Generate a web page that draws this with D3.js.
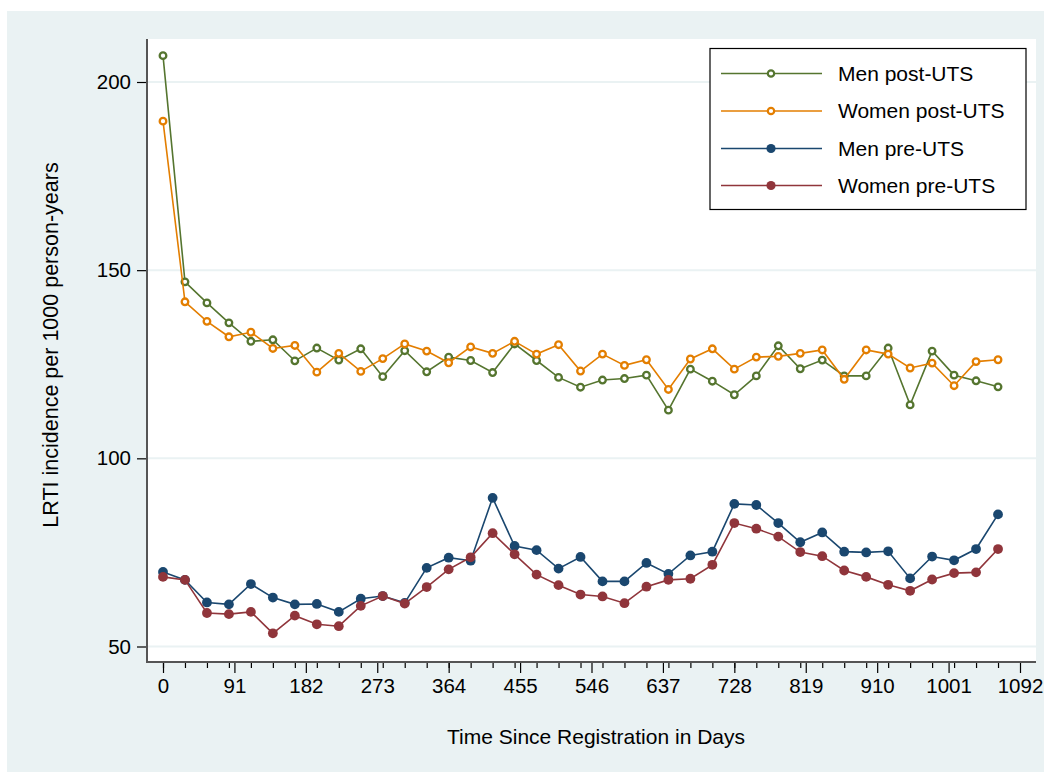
<!DOCTYPE html>
<html>
<head>
<meta charset="utf-8">
<script src="https://cdn.jsdelivr.net/npm/d3@7"></script>
<style>
  html, body { margin: 0; padding: 0; background: #ffffff; }
  svg { display: block; font-family: "Liberation Sans", Arial, Helvetica, sans-serif; }
</style>
</head>
<body>
<svg id="chart" width="1051" height="772"></svg>
<script>
// ---- Data ----
const days = [0, 28, 56, 84, 112, 140, 168, 196, 224, 252, 280, 308, 336, 364, 392, 420, 448, 476, 504, 532,
  560, 588, 616, 644, 672, 700, 728, 756, 784, 812, 840, 868, 896, 924, 952, 980, 1008, 1036, 1064];

const menPost = [207.0, 146.9, 141.3, 136.0, 131.1, 131.5, 125.9, 129.3, 126.1, 129.1, 121.7, 128.6, 123.0,
  126.9, 126.0, 122.8, 130.4, 126.0, 121.5, 118.9, 120.8, 121.2, 122.1, 112.8, 123.7, 120.5, 116.9, 121.9,
  129.9, 123.8, 126.1, 121.9, 121.9, 129.3, 114.2, 128.5, 122.1, 120.6, 119.0];

const womenPost = [189.6, 141.6, 136.4, 132.3, 133.5, 129.2, 130.0, 122.9, 127.9, 123.1, 126.5, 130.4, 128.5,
  125.4, 129.6, 127.9, 131.1, 127.7, 130.2, 123.2, 127.7, 124.7, 126.2, 118.3, 126.4, 129.1, 123.7, 126.9,
  127.1, 127.9, 128.8, 121.0, 128.8, 127.7, 124.0, 125.3, 119.3, 125.7, 126.2];

const menPre = [69.8, 67.7, 61.7, 61.2, 66.6, 63.0, 61.2, 61.3, 59.2, 62.7, 63.4, 61.6, 70.9,
  73.6, 72.8, 89.5, 76.7, 75.6, 70.7, 73.8, 67.3, 67.3, 72.2, 69.3, 74.2, 75.2, 87.9, 87.6,
  82.8, 77.7, 80.3, 75.2, 75.0, 75.3, 68.1, 73.9, 72.9, 75.9, 85.1];

const womenPre = [68.5, 67.7, 58.9, 58.6, 59.2, 53.5, 58.2, 55.9, 55.4, 60.8, 63.4, 61.4, 65.8,
  70.5, 73.7, 80.1, 74.5, 69.1, 66.3, 63.8, 63.3, 61.5, 65.9, 67.7, 68.0, 71.7, 82.8, 81.3,
  79.2, 75.1, 74.0, 70.2, 68.5, 66.4, 64.8, 67.8, 69.5, 69.7, 75.9];

const xMajorTicks = [0, 91, 182, 273, 364, 455, 546, 637, 728, 819, 910, 1001, 1092];
const xMinorTicks = days;
const yTicks = [50, 100, 150, 200];

const seriesNames = ["Men post-UTS", "Women post-UTS", "Men pre-UTS", "Women pre-UTS"];
const seriesValues = [menPost, womenPost, menPre, womenPre];
const seriesColors = ["#55752F", "#E37E00", "#1A476F", "#90353B"];
const seriesHollow = [true, true, false, false];

const xTitle = "Time Since Registration in Days";
const yTitle = "LRTI incidence per 1000 person-years";

// ---- Layout ----
const svg = d3.select("#chart");
const W = 1051, H = 772;
const plot = { left: 147, right: 1036, top: 39, bottom: 662 };

// outer graph region
svg.append("rect").attr("x", 7).attr("y", 11).attr("width", 1037).attr("height", H - 11)
  .attr("fill", "#EAF2F3");
// plot region
svg.append("rect").attr("x", plot.left).attr("y", plot.top)
  .attr("width", plot.right - plot.left).attr("height", plot.bottom - plot.top)
  .attr("fill", "#ffffff");

const x = d3.scaleLinear().domain([0, 1092]).range([163, 1020]);
const y = d3.scaleLinear().domain([50, 200]).range([646.5, 82]);

// gridlines
svg.append("g").selectAll("line").data(yTicks).join("line")
  .attr("x1", plot.left + 1).attr("x2", plot.right)
  .attr("y1", d => y(d)).attr("y2", d => y(d))
  .attr("stroke", "#EAF2F3").attr("stroke-width", 2);

// Y axis
const yAxis = d3.axisLeft(y).tickValues(yTicks).tickSize(10).tickPadding(6).tickFormat(d3.format("d"));
const gy = svg.append("g").attr("transform", `translate(${plot.left},0)`).call(yAxis);
gy.select(".domain").remove();
gy.selectAll(".tick line").attr("stroke", "#000").attr("stroke-width", 1.2);
gy.selectAll(".tick text").attr("font-size", 20.5).attr("fill", "#000")
  .attr("font-family", "Liberation Sans, Arial, sans-serif");
svg.append("line").attr("x1", plot.left).attr("x2", plot.left)
  .attr("y1", plot.top).attr("y2", plot.bottom + 1)
  .attr("stroke", "#555").attr("stroke-width", 2);

// X axis minor ticks
const gxm = svg.append("g").attr("transform", `translate(0,${plot.bottom})`)
  .call(d3.axisBottom(x).tickValues(xMinorTicks).tickSize(6).tickFormat(""));
gxm.select(".domain").remove();
gxm.selectAll(".tick line").attr("stroke", "#000").attr("stroke-width", 1.2);

// X axis major ticks
const gx = svg.append("g").attr("transform", `translate(0,${plot.bottom})`)
  .call(d3.axisBottom(x).tickValues(xMajorTicks).tickSize(11).tickPadding(5).tickFormat(d3.format("d")));
gx.select(".domain").remove();
gx.selectAll(".tick line").attr("stroke", "#000").attr("stroke-width", 1.2);
gx.selectAll(".tick text").attr("font-size", 20.5).attr("fill", "#000")
  .attr("font-family", "Liberation Sans, Arial, sans-serif");
svg.append("line").attr("x1", plot.left - 1).attr("x2", plot.right)
  .attr("y1", plot.bottom).attr("y2", plot.bottom)
  .attr("stroke", "#555").attr("stroke-width", 2);

// axis titles
svg.append("text").attr("x", 596).attr("y", 744)
  .attr("text-anchor", "middle").attr("font-size", 21).attr("fill", "#000").text(xTitle);
svg.append("text").attr("transform", `translate(58,345) rotate(-90)`)
  .attr("text-anchor", "middle").attr("font-size", 21.5).attr("fill", "#000").text(yTitle);

// series
const line = d3.line().x((d, i) => x(days[i])).y(d => y(d));
const drawOrder = [2, 3, 0, 1];
drawOrder.forEach(si => {
  const vals = seriesValues[si];
  const g = svg.append("g");
  g.append("path").datum(vals).attr("d", line).attr("fill", "none")
    .attr("stroke", seriesColors[si]).attr("stroke-width", 1.6);
  const pts = g.selectAll("circle").data(vals).join("circle")
    .attr("cx", (d, i) => x(days[i])).attr("cy", d => y(d));
  if (seriesHollow[si]) {
    pts.attr("r", 3.3).attr("fill", "#fff").attr("stroke", seriesColors[si]).attr("stroke-width", 2.3);
  } else {
    pts.attr("r", 4.9).attr("fill", seriesColors[si]).attr("stroke", "none");
  }
});

// legend
const lg = svg.append("g");
lg.append("rect").attr("x", 710).attr("y", 48.5).attr("width", 316).attr("height", 161)
  .attr("fill", "#fff").attr("stroke", "#000").attr("stroke-width", 1.2);
const rowsY = [73.5, 111, 148.5, 185.5];
seriesNames.forEach((name, i) => {
  const ry = rowsY[i];
  lg.append("line").attr("x1", 721).attr("x2", 822).attr("y1", ry).attr("y2", ry)
    .attr("stroke", seriesColors[i]).attr("stroke-width", 1.6);
  if (seriesHollow[i]) {
    lg.append("circle").attr("cx", 771).attr("cy", ry).attr("r", 3.2)
      .attr("fill", "#fff").attr("stroke", seriesColors[i]).attr("stroke-width", 2.2);
  } else {
    lg.append("circle").attr("cx", 771).attr("cy", ry).attr("r", 4.6).attr("fill", seriesColors[i]);
  }
  lg.append("text").attr("x", 838).attr("y", ry + 7).attr("font-size", 21).attr("fill", "#000").text(name);
});
</script>
</body>
</html>
